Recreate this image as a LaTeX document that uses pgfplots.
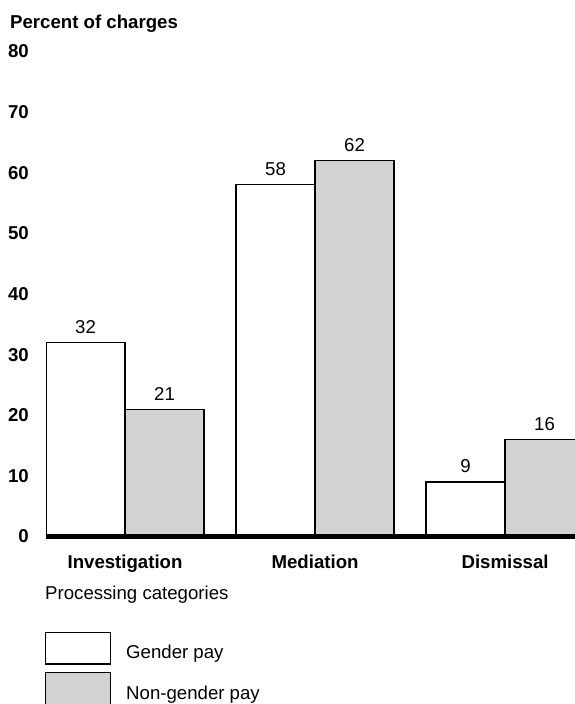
\documentclass[border=0pt]{standalone}
\usepackage{fontspec}
\setmainfont{Liberation Sans}
\usepackage{pgfplots}
\pgfplotsset{compat=1.18}
\definecolor{bargray}{RGB}{209,210,212}
\newcommand{\fs}{\fontsize{18.7}{22}}
\begin{document}
\fs\selectfont
\begin{tikzpicture}
\path[use as bounding box] (0,0) rectangle (575bp,-704bp);
\begin{axis}[
  at={(46bp,-536.5bp)}, anchor=south west,
  scale only axis, width=529bp, height=485bp,
  ybar=0pt, bar width=79bp,
  xmin=-0.416, xmax=2.368, ymin=0, ymax=80,
  xtick={0,1,2}, xticklabels={Investigation,Mediation,Dismissal},
  ytick={0,10,...,80},
  /pgf/number format/assume math mode=true,
  axis y line*=left, axis x line*=bottom,
  y axis line style={draw=none},
  x axis line style={line width=5bp, -},
  axis on top=true,
  major tick length=0pt,
  yticklabel style={font=\fs\bfseries, anchor=east, inner sep=0pt, xshift=-17bp},
  xticklabel style={font=\fs\bfseries, anchor=north, inner sep=0pt, yshift=-18.5bp},
  nodes near coords,
  every node near coord/.append style={font=\fs\selectfont, anchor=south, inner sep=0pt, yshift=8.5bp},
  legend image code/.code={\draw[#1, line width=1.2bp] (0bp,-10.3bp) rectangle (65bp,21.3bp);},
  legend style={draw=none, fill=none, at={(rel axis cs:0,0)}, anchor=north west,
    xshift=-1bp, yshift=-95.2bp, inner sep=0pt, outer sep=0pt,
    row sep=7.5bp, column sep=15bp, nodes={inner sep=0pt, outer sep=0pt},
    font=\fs\selectfont},
  legend cell align=left,
  clip mode=individual,
]
\addplot[draw=black, line width=1.2bp, fill=white] coordinates {(0,32) (1,58) (2,9)};
\addplot[draw=black, line width=1.2bp, fill=bargray] coordinates {(0,21) (1,62) (2,16)};
\legend{Gender pay, Non-gender pay}
\node[anchor=base west, inner sep=0pt, font=\fs\bfseries] at ([xshift=-36bp, yshift=23.5bp]rel axis cs:0,1) {Percent of charges};
\node[anchor=base west, inner sep=0pt] at ([xshift=-1bp, yshift=-62.5bp]rel axis cs:0,0) {Processing categories};
\end{axis}
\end{tikzpicture}
\end{document}
